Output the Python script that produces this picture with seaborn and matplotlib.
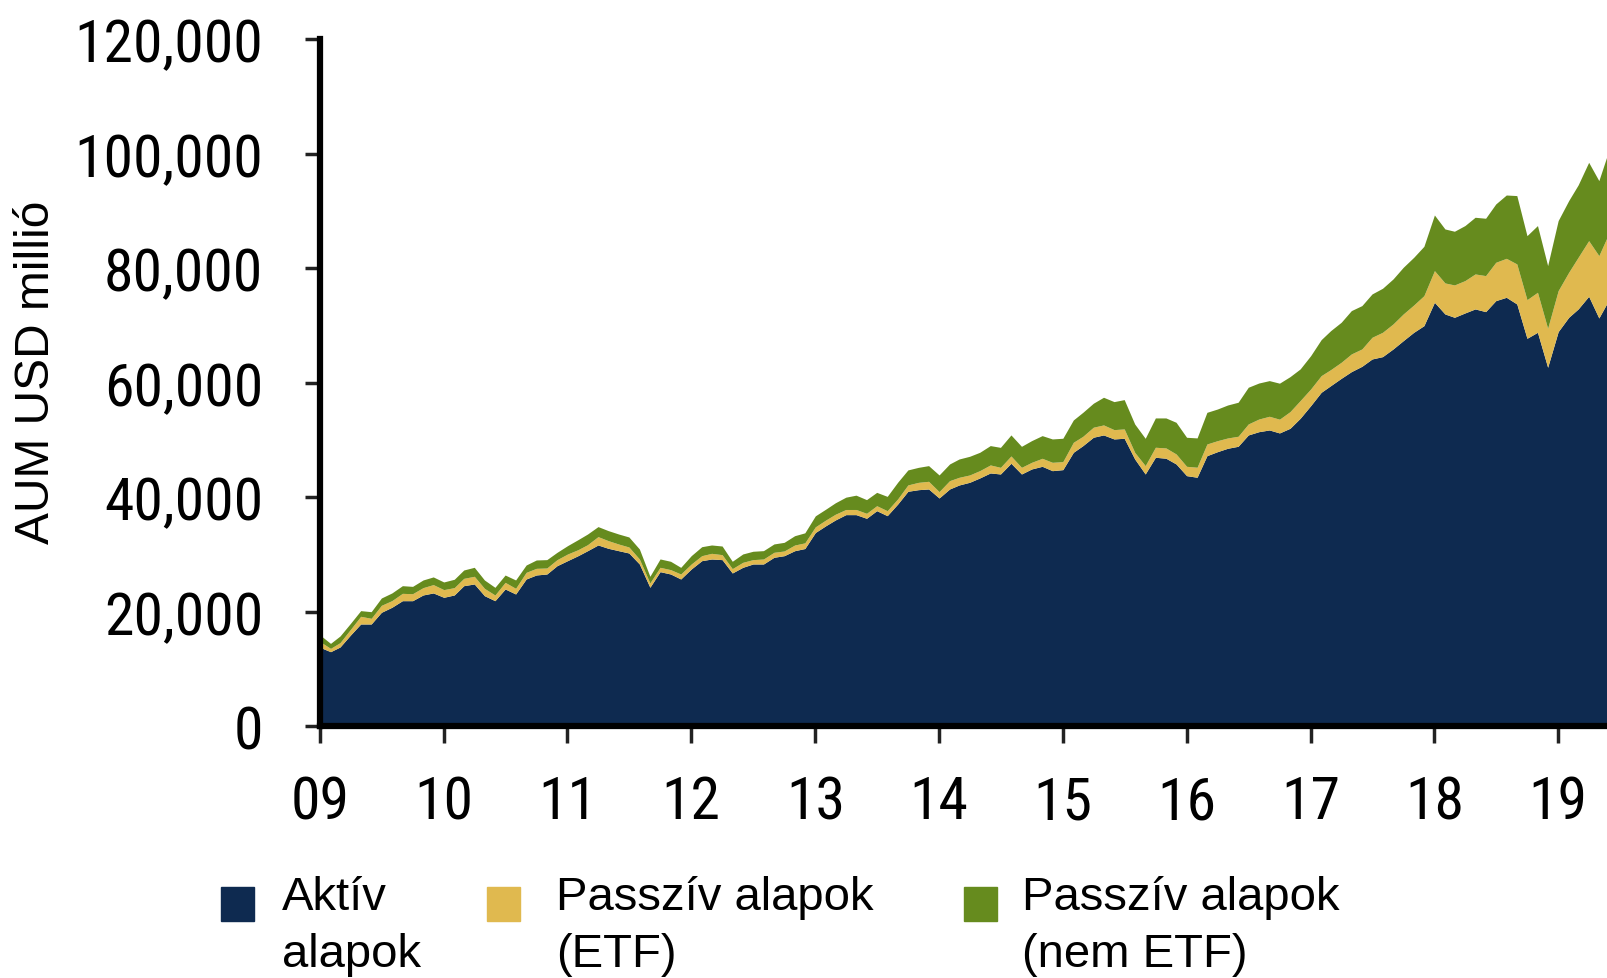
import numpy as np
import pandas as pd
import matplotlib
matplotlib.use("Agg")
import matplotlib.pyplot as plt
import matplotlib.ticker as mticker
from matplotlib.patches import Rectangle
import seaborn as sns

# havi adatok, 2009 jan - 2019 jun (USD millió)
months = pd.date_range("2009-01-01", periods=126, freq="MS")

aktiv = [13750, 12980, 13800, 15900, 17820, 17820, 19860, 20740, 21890, 21890, 22890, 23240,
         22480, 22890, 24510, 24810, 22760, 21890, 23930, 23060, 25680, 26380, 26550, 28000,
         28880, 29750, 30620, 31620, 31040, 30620, 30220, 28300, 24230, 26960, 26550, 25680,
         27430, 28880, 29170, 29060, 26730, 27720, 28300, 28300, 29470, 29750, 30620, 31000,
         33800, 34990, 35990, 36920, 36920, 36280, 37610, 36740, 38780, 41000, 41280, 41400,
         39830, 41400, 42100, 42570, 43330, 44200, 44020, 45890, 44020, 44900, 45360, 44600,
         44780, 47810, 48970, 50440, 50840, 50140, 50260, 46640, 44020, 46940, 46770, 45770,
         43730, 43450, 47220, 47920, 48510, 48860, 50840, 51410, 51710, 51190, 52000, 53750,
         55960, 58290, 59450, 60730, 61900, 62830, 64110, 64520, 65860, 67310, 68770, 69930,
         74010, 71970, 71390, 72150, 72850, 72380, 74300, 74880, 73720, 67720, 68770, 62660,
         68890, 71390, 72850, 75060, 71270, 74590]

etf = [990, 580, 760, 990, 1340, 990, 1220, 1160, 1280, 1220, 1280, 1460,
       1340, 1280, 1280, 1340, 1280, 990, 1160, 990, 1160, 1160, 1050, 1050,
       1160, 1050, 1050, 1460, 1340, 1160, 1050, 870, 760, 760, 760, 870,
       870, 870, 990, 870, 760, 870, 760, 870, 870, 820, 990, 990,
       990, 1000, 1000, 900, 900, 870, 870, 870, 900, 1110, 1280, 1340,
       1110, 1460, 1340, 1280, 1280, 1400, 1160, 1280, 1160, 1160, 1400, 1460,
       1400, 1750, 1630, 1750, 1750, 1630, 1630, 1160, 1460, 1750, 1800, 1750,
       1630, 1750, 2040, 1920, 1800, 1750, 1920, 2210, 2390, 2400, 2910, 3090,
       2910, 2910, 2800, 2800, 3090, 3030, 3790, 4250, 4370, 4660, 4770, 5240,
       5530, 5420, 5650, 5650, 6110, 6290, 6700, 6810, 6990, 6750, 6990, 6810,
       7160, 7860, 9030, 9720, 10890, 11650]

nem_etf = [1160, 870, 1160, 1050, 990, 1160, 1280, 1340, 1340, 1280, 1340, 1340,
           1340, 1460, 1460, 1570, 1460, 1340, 1280, 1460, 1280, 1460, 1460, 1280,
           1460, 1750, 1860, 1750, 1750, 1750, 1750, 1750, 1160, 1460, 1460, 1160,
           1460, 1570, 1460, 1510, 1280, 1460, 1460, 1460, 1460, 1510, 1630, 1750,
           1920, 1900, 2000, 2150, 2500, 2390, 2330, 2500, 2910, 2620, 2620, 2740,
           2910, 2910, 3200, 3260, 3200, 3380, 3490, 3670, 3670, 3790, 3960, 4080,
           4080, 3900, 4190, 4190, 4830, 4890, 5120, 4950, 4770, 5120, 5240, 5530,
           5070, 5120, 5530, 5530, 5760, 5940, 6410, 6290, 6230, 6290, 6110, 5530,
           5820, 6290, 6810, 6990, 7570, 7570, 7570, 7690, 7860, 8150, 8330, 8620,
           9720, 9430, 9380, 9610, 9900, 10020, 10190, 11060, 11940, 11180, 11650, 10950,
           12230, 12520, 12640, 13680, 13100, 14560]

series_names = ["Aktív\nalapok", "Passzív alapok\n(ETF)", "Passzív alapok\n(nem ETF)"]
colors = ["#0E2A50", "#E0B94F", "#668B1E"]
year_labels = ["09", "10", "11", "12", "13", "14", "15", "16", "17", "18", "19"]
y_ticks = [0, 20000, 40000, 60000, 80000, 100000, 120000]

sns.set_style("white")
plt.rcParams["font.family"] = ["Liberation Sans", "DejaVu Sans"]
plt.rcParams["text.color"] = "black"
narrow = ["Roboto Condensed", "PT Sans Narrow", "Archivo Narrow", "DejaVu Sans"]

W, H = 1608, 979
fig = plt.figure(figsize=(W / 100, H / 100), dpi=100)
ax = fig.add_axes([320 / W, 1 - 727 / H, (W - 320) / W, (727 - 40) / H])

ax.stackplot(months, aktiv, etf, nem_etf, colors=colors, linewidth=0)

ax.set_ylim(0, 120000)
ax.set_xlim(months[0], pd.Timestamp("2019-05-28"))
ax.set_yticks(y_ticks)
ax.yaxis.set_major_formatter(mticker.FuncFormatter(lambda v, p: f"{int(v):,}"))
ax.set_xticks(pd.date_range("2009-01-01", "2019-01-01", freq="YS"))
ax.set_xticklabels(year_labels)

sns.despine(ax=ax)
for s in ["left", "bottom"]:
    ax.spines[s].set_linewidth(4.5)
    ax.spines[s].set_color("black")
    ax.spines[s].set_zorder(5)

ax.tick_params(axis="y", direction="out", length=11, width=2.5, color="#222222",
               pad=30, left=True)
ax.tick_params(axis="x", direction="out", length=12, width=2.5, color="#222222",
               pad=22, bottom=True)
for lab in ax.get_xticklabels() + ax.get_yticklabels():
    lab.set_fontfamily(narrow)
    lab.set_fontstretch("condensed")
    lab.set_fontsize(43)
    lab.set_color("black")

fig.text(37 / W, 1 - 372 / H, "AUM USD millió", rotation=90, ha="center", va="center",
         fontsize=34.5)

# jelmagyarázat
legend_pos = [(221, 282), (487, 556), (964, 1022)]
for (sq_x, tx_x), name, col in zip(legend_pos, series_names, colors):
    fig.patches.append(Rectangle((sq_x / W, 1 - 922 / H), 33 / W, 34 / H,
                                 transform=fig.transFigure, color=col))
    fig.text(tx_x / W, 1 - 876 / H, name, ha="left", va="top", fontsize=34,
             linespacing=1.38)

fig.savefig("out.png", dpi=100)
